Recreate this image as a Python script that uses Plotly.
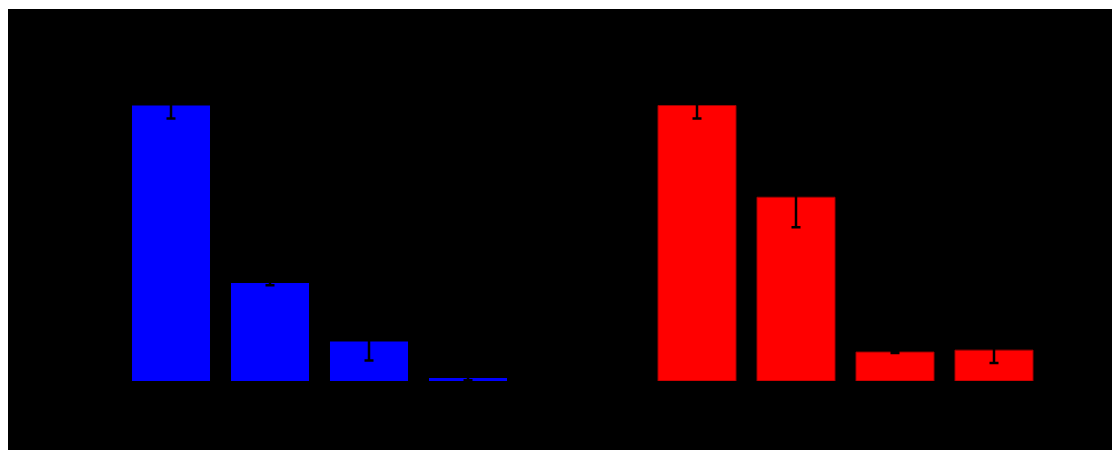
import plotly.graph_objects as go

# Four conditions per panel, values relative to the first condition (%)
categories = ["C1", "C2", "C3", "C4"]
blue_values = [100.0, 35.6, 14.3, 1.1]
blue_errors = [4.7, 0.8, 6.9, 0.8]
red_values = [100.0, 66.7, 10.5, 11.2]
red_errors = [4.7, 10.9, 0.3, 4.7]

W, H = 1112, 450
M_L, M_T = 8, 9
plot_w, plot_h = W - M_L, H - M_T

fig = go.Figure()

fig.add_trace(go.Bar(
    x=categories, y=blue_values, xaxis="x", yaxis="y",
    marker=dict(color="#0000ff", line=dict(width=0)),
    error_y=dict(type="data", array=blue_errors, color="black", thickness=2.5, width=4.5),
    showlegend=False,
))
fig.add_trace(go.Bar(
    x=categories, y=red_values, xaxis="x2", yaxis="y",
    marker=dict(color="#ff0000", line=dict(width=1, color="#a00000")),
    error_y=dict(type="data", array=red_errors, color="black", thickness=2.5, width=4.5),
    showlegend=False,
))

# panel placement in pixels converted to paper fractions
def px_to_x(px):
    return (px - M_L) / plot_w

base_px = 381
top_px = M_T
px_per_unit = (381 - 105.5) / 100.0
y_top = (base_px - top_px) / px_per_unit

axis_common = dict(showgrid=False, zeroline=False, showticklabels=False,
                   showline=False, ticks="")

fig.update_layout(
    width=W, height=H,
    margin=dict(l=M_L, r=0, t=M_T, b=0, pad=0),
    paper_bgcolor="white",
    plot_bgcolor="black",
    bargap=0.212,
    xaxis=dict(domain=[px_to_x(121.5), px_to_x(517.5)], anchor="y", **axis_common),
    xaxis2=dict(domain=[px_to_x(647.5), px_to_x(1043.5)], anchor="y", **axis_common),
    yaxis=dict(domain=[(H - base_px) / plot_h, 1], range=[0, y_top], **axis_common),
    shapes=[dict(type="rect", xref="paper", yref="paper", x0=0, x1=1, y0=0, y1=1,
                 fillcolor="black", line=dict(width=0), layer="below")],
)

fig.write_html("out.html")
